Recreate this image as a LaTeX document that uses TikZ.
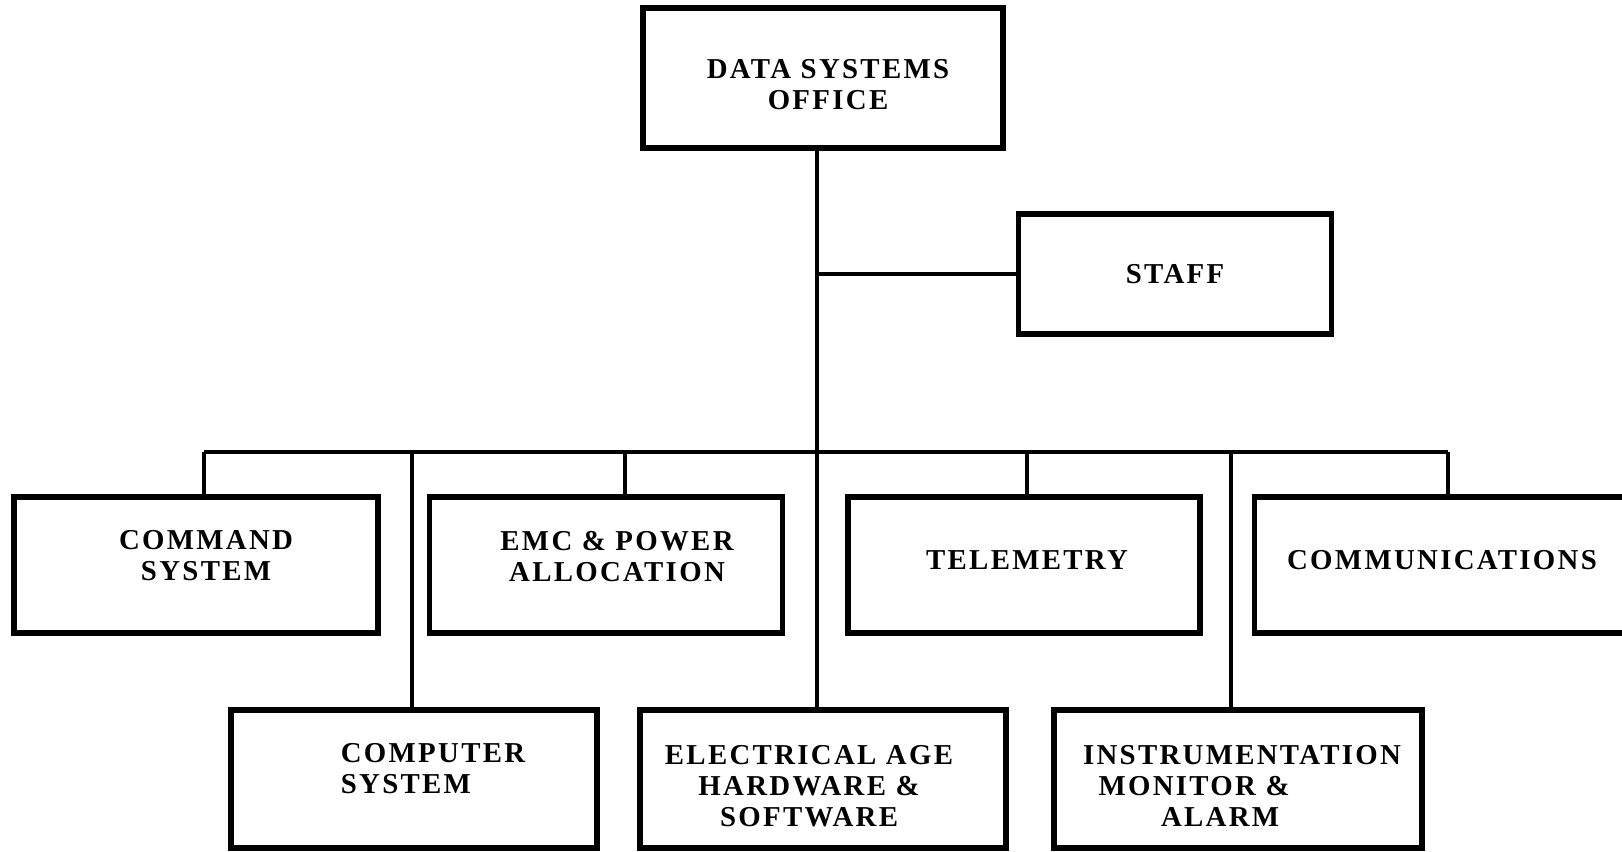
\documentclass[tikz,border=0pt]{standalone}
\usepackage{fontspec}
\setmainfont{Liberation Serif}
\newfontfamily\chartfont[LetterSpace=8]{Liberation Serif}
\usetikzlibrary{positioning}

\tikzset{
  unit/.style={draw, line width=1.5pt, inner sep=0pt},
  caption/.style={align=center, inner sep=0pt,
    font=\chartfont\bfseries\fontsize{8.2}{8.8}\selectfont},
  link/.style={line width=1.3pt}
}

\begin{document}
\begin{tikzpicture}[x=0.01cm, y=-0.01cm]
    \useasboundingbox (0,0) rectangle (1622,851);
    \clip (0,0) rectangle (1622,851);

    % head and staff
    \node[unit, minimum width=3.6cm, minimum height=1.4cm] (office) at (823,78) {};
    \node[unit, minimum width=3.13cm, minimum height=1.2cm] (staff) at (1175,274) {};

    % first row
    \foreach \name/\x/\w in {command/196/3.64, emc/606/3.53, telemetry/1024/3.52, comms/1442/3.75}{
        \node[unit, minimum width=\w cm, minimum height=1.36cm] (\name) at (\x,565) {};
    }

    % second row
    \foreach \name/\x/\w in {computer/414/3.66, electrical/823/3.66, instr/1238/3.68}{
        \node[unit, minimum width=\w cm, minimum height=1.38cm] (\name) at (\x,779) {};
    }

    % texts
    \foreach \name/\dx/\dy/\txt in {
        office/0.05/-0.07/DATA SYSTEMS\\OFFICE,
        staff/0/0/STAFF,
        command/0.1/0.09/COMMAND\\SYSTEM,
        emc/0.11/0.08/EMC \& POWER\\ALLOCATION,
        telemetry/0.03/0.05/TELEMETRY,
        comms/0/0.05/COMMUNICATIONS,
        electrical/-0.14/-0.07/ELECTRICAL AGE\\HARDWARE \&\\SOFTWARE
    }{
        \node[caption] (\name-t) at ([xshift=\dx cm, yshift=\dy cm]\name.center) {\txt};
    }
    \node[caption, align=left] (computer-t) at ([xshift=0.19cm, yshift=0.1cm]computer.center) {COMPUTER\\SYSTEM};
    \node[caption, align=left] (instr-t) at ([xshift=0.04cm, yshift=-0.07cm]instr.center)
        {INSTRUMENTATION\\\hspace*{0.155cm}MONITOR \&\\\hspace*{0.78cm}ALARM};

    % trunk, staff line and bus
    \coordinate (hub) at (817,452);
    \coordinate (busL) at (204,452);
    \coordinate (busR) at (1448,452);
    \draw[link] (hub |- office.south) -- (hub |- electrical.north);
    \draw[link] (hub |- staff.west) -- (staff.west);
    \draw[link] (busL) -- (busR);

    % drops to the boxes
    \foreach \name/\x in {command/204, emc/625, telemetry/1027, comms/1448, computer/412, instr/1231}{
        \draw[link] (\x,452) -- (\x,452 |- \name.north);
    }
\end{tikzpicture}
\end{document}
